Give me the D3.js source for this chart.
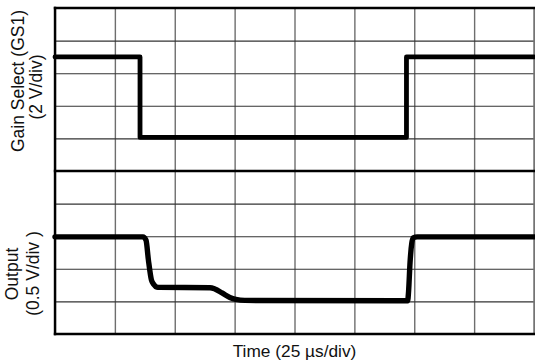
<!DOCTYPE html>
<html>
<head>
<meta charset="utf-8">
<script src="https://cdn.jsdelivr.net/npm/d3@7"></script>
<style>
  html, body { margin: 0; padding: 0; background: #fff; }
  svg { display: block; }
  text { font-family: "Liberation Sans", Arial, Helvetica, sans-serif; fill: #111; }
</style>
</head>
<body>
<svg id="chart" width="535" height="362"></svg>
<script>
// Grid divisions
const xDivs = [0, 1, 2, 3, 4, 5, 6, 7, 8];
const yDivs = [0, 1, 2, 3, 4, 5];

// Gain Select (GS1) trace: time (div), level (div within top panel)
const gsTime  = [0, 1.42, 1.42, 5.87, 5.87, 8];
const gsLevel = [3.5, 3.5, 1.03, 1.03, 3.5, 3.5];

// Output trace: time (div), level (div within bottom panel)
const outTime  = [0, 1.47, 1.52, 1.56, 1.61, 1.65, 1.70, 1.75, 2.59, 2.67, 2.79, 2.92, 3.02, 3.17, 5.89, 5.905, 5.93, 5.96, 5.98, 6.05, 8];
const outLevel = [2.98, 2.98, 2.88, 2.27, 1.66, 1.52, 1.44, 1.43, 1.42, 1.38, 1.26, 1.12, 1.06, 1.03, 1.02, 1.3, 2.2, 2.8, 2.95, 2.98, 2.98];

// Labels
const xLabel = "Time (25 µs/div)";
const topLabel = ["Gain Select (GS1)", "(2 V/div)"];
const bottomLabel = ["Output", "(0.5 V/div )"];

(function () {
const svg = d3.select("#chart");
const L = 55, R = 534, T = 8, M = 171, B = 334;

const x = d3.scaleLinear().domain([0, 8]).range([L, R]);
const yTop = d3.scaleLinear().domain([0, 5]).range([M, T]);
const yBot = d3.scaleLinear().domain([0, 5]).range([B, M]);

// vertical grid
const gx = svg.append("g").attr("transform", `translate(0,${B})`)
  .call(d3.axisBottom(x).tickValues(xDivs).tickSize(-(B - T)).tickFormat(""));
gx.select(".domain").remove();
gx.selectAll(".tick line").attr("stroke", "#6e6e6e").attr("stroke-width", 1.4);

// horizontal grid, both panels
[yTop, yBot].forEach(ys => {
  const g = svg.append("g").attr("transform", `translate(${L},0)`)
    .call(d3.axisLeft(ys).tickValues(yDivs).tickSize(-(R - L)).tickFormat(""));
  g.select(".domain").remove();
  g.selectAll(".tick line").attr("stroke", "#333").attr("stroke-width", 1.1);
});

// right border thin gray
svg.append("line").attr("x1", R).attr("x2", R).attr("y1", T).attr("y2", B)
  .attr("stroke", "#777").attr("stroke-width", 1.4);

// thick frame lines
const thick = [[L, T, R, T], [L, M, R, M], [L, B, R, B], [L, T, L, B]];
svg.selectAll("line.frame").data(thick).enter().append("line").attr("class", "frame")
  .attr("x1", d => d[0]).attr("y1", d => d[1]).attr("x2", d => d[2]).attr("y2", d => d[3])
  .attr("stroke", "#000").attr("stroke-width", 2.4).attr("stroke-linecap", "square");

// traces
const gsData = gsTime.map((t, i) => [t, gsLevel[i]]);
const outData = outTime.map((t, i) => [t, outLevel[i]]);

svg.append("path").datum(gsData)
  .attr("d", d3.line().x(d => x(d[0])).y(d => yTop(d[1])))
  .attr("fill", "none").attr("stroke", "#000").attr("stroke-width", 4.8)
  .attr("stroke-linejoin", "round").attr("stroke-linecap", "round");

svg.append("path").datum(outData)
  .attr("d", d3.line().curve(d3.curveMonotoneX).x(d => x(d[0])).y(d => yBot(d[1])))
  .attr("fill", "none").attr("stroke", "#000").attr("stroke-width", 5.4)
  .attr("stroke-linejoin", "round").attr("stroke-linecap", "round");

// x label
svg.append("text").attr("x", (L + R) / 2).attr("y", 356.5)
  .attr("text-anchor", "middle").style("font-size", "17.3px").text(xLabel);

// y labels (rotated)
function yLabel(lines, cy, xs) {
  lines.forEach((s, i) => {
    svg.append("text")
      .attr("transform", `translate(${xs[i]},${cy[i]}) rotate(-90)`)
      .attr("text-anchor", "middle").style("font-size", "17.5px").text(s);
  });
}
yLabel(topLabel, [81, 87], [24, 41.5]);
yLabel(bottomLabel, [274, 273.5], [18, 39]);
})();
</script>
</body>
</html>
